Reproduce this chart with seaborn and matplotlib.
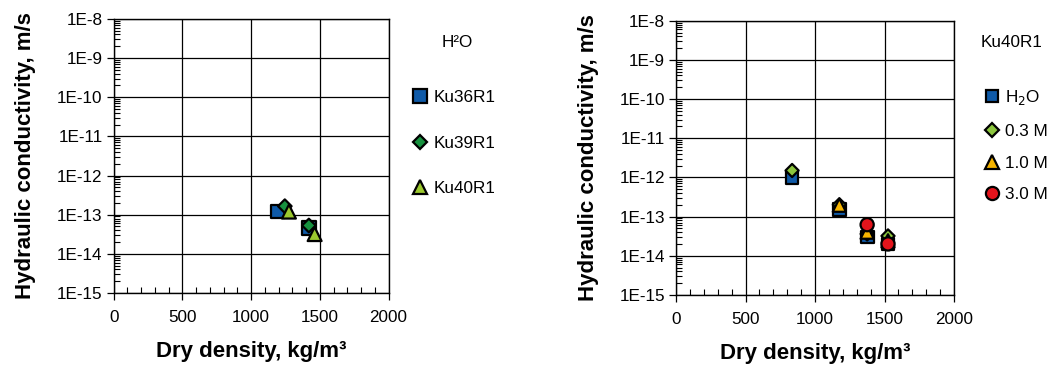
import numpy as np
import pandas as pd
import matplotlib
matplotlib.use('Agg')
import matplotlib.pyplot as plt
from matplotlib.lines import Line2D
from matplotlib.ticker import FuncFormatter, LogLocator, MultipleLocator
import seaborn as sns

# ── Data: left panel (H2O, three materials) ──────────────────────────
left_series  = ['Ku36R1', 'Ku39R1', 'Ku40R1']
ku36_density = [1195, 1420]
ku36_k       = [1.2e-13, 4.6e-14]
ku39_density = [1245, 1420]
ku39_k       = [1.65e-13, 5.3e-14]
ku40_density = [1275, 1462]
ku40_k       = [1.2e-13, 3.2e-14]

# ── Data: right panel (Ku40R1, four solutions) ───────────────────────
right_series  = ['H$_2$O', '0.3 M', '1.0 M', '3.0 M']
h2o_density   = [835, 1175, 1375, 1525]
h2o_k         = [1.0e-12, 1.55e-13, 3.0e-14, 2.0e-14]
m03_density   = [835, 1175, 1375, 1525]
m03_k         = [1.5e-12, 2.0e-13, 3.6e-14, 3.2e-14]
m10_density   = [1175, 1375, 1525]
m10_k         = [1.95e-13, 4.0e-14, 2.4e-14]
m30_density   = [1375, 1525]
m30_k         = [6.2e-14, 2.0e-14]

left_df = pd.concat([
    pd.DataFrame({'density': ku36_density, 'k': ku36_k, 'series': 'Ku36R1'}),
    pd.DataFrame({'density': ku39_density, 'k': ku39_k, 'series': 'Ku39R1'}),
    pd.DataFrame({'density': ku40_density, 'k': ku40_k, 'series': 'Ku40R1'}),
], ignore_index=True)

right_df = pd.concat([
    pd.DataFrame({'density': h2o_density, 'k': h2o_k, 'series': 'H$_2$O'}),
    pd.DataFrame({'density': m03_density, 'k': m03_k, 'series': '0.3 M'}),
    pd.DataFrame({'density': m10_density, 'k': m10_k, 'series': '1.0 M'}),
    pd.DataFrame({'density': m30_density, 'k': m30_k, 'series': '3.0 M'}),
], ignore_index=True)

left_colors  = {'Ku36R1': '#0f5aa8', 'Ku39R1': '#17913f', 'Ku40R1': '#9cc92f'}
left_markers = {'Ku36R1': 's', 'Ku39R1': 'D', 'Ku40R1': '^'}
left_sizes   = {'Ku36R1': 95, 'Ku39R1': 48, 'Ku40R1': 100}
right_colors  = {'H$_2$O': '#0f5aa8', '0.3 M': '#8cc63e',
                 '1.0 M': '#f7b500', '3.0 M': '#e3141c'}
right_markers = {'H$_2$O': 's', '0.3 M': 'D', '1.0 M': '^', '3.0 M': 'o'}
right_sizes   = {'H$_2$O': 85, '0.3 M': 45, '1.0 M': 90, '3.0 M': 90}

sns.set_style('white')
plt.rcParams['font.family'] = ['Liberation Sans', 'DejaVu Sans']
plt.rcParams['text.color'] = 'black'
plt.rcParams['axes.labelcolor'] = 'black'

fig = plt.figure(figsize=(10.53, 3.70), dpi=100)
ax_l = fig.add_axes([0.108, 0.208, 0.261, 0.741])
ax_r = fig.add_axes([0.642, 0.203, 0.264, 0.741])

TICK_FS = 12.3


def style_axis(ax):
    ax.set_yscale('log')
    ax.set_xlim(0, 2000)
    ax.set_ylim(1e-15, 1e-8)
    ax.xaxis.set_major_locator(MultipleLocator(500))
    ax.xaxis.set_minor_locator(MultipleLocator(100))
    ax.yaxis.set_major_locator(LogLocator(base=10, numticks=20))
    ax.yaxis.set_minor_locator(LogLocator(base=10, subs=np.arange(2, 10), numticks=20))
    ax.yaxis.set_major_formatter(FuncFormatter(lambda v, p: '1E%d' % round(np.log10(v))))
    ax.grid(True, which='major', color='black', linewidth=0.9)
    ax.tick_params(which='major', direction='out', length=5, width=0.9,
                   labelsize=TICK_FS, colors='black', pad=3,
                   bottom=True, left=True)
    ax.tick_params(axis='x', which='major', pad=7)
    ax.tick_params(which='minor', direction='in', length=4, width=0.8,
                   bottom=True, left=True, color='black')
    for s in ax.spines.values():
        s.set_color('black')
        s.set_linewidth(1.0)
    ax.set_xlabel('Dry density, kg/m³', fontsize=16, fontweight='bold', labelpad=12)
    ax.set_ylabel('Hydraulic conductivity, m/s', fontsize=16, fontweight='bold', labelpad=15)


def legend_handles(names, markers, colors, sizes):
    return [Line2D([], [], linestyle='none', marker=markers[n],
                   markersize=np.sqrt(sizes[n]), markerfacecolor=colors[n],
                   markeredgecolor='black', markeredgewidth=1.6) for n in names]


# Left panel
sns.scatterplot(data=left_df, x='density', y='k', hue='series', style='series',
                size='series', sizes=left_sizes,
                palette=left_colors, markers=left_markers,
                edgecolor='black', linewidth=1.6, legend=False, ax=ax_l, zorder=3)
style_axis(ax_l)
ax_l.legend(legend_handles(left_series, left_markers, left_colors, left_sizes),
            left_series, loc='upper left', bbox_to_anchor=(1.06, 0.765),
            frameon=False, fontsize=TICK_FS, labelspacing=1.78, handletextpad=0.3,
            handlelength=1.0, borderaxespad=0, labelcolor='black')
ax_l.text(1.193, 0.912, 'H²O', transform=ax_l.transAxes, fontsize=TICK_FS,
          ha='left', va='center', color='black')

# Right panel
sns.scatterplot(data=right_df, x='density', y='k', hue='series', style='series',
                size='series', sizes=right_sizes,
                palette=right_colors, markers=right_markers,
                edgecolor='black', linewidth=1.6, legend=False, ax=ax_r, zorder=3)
style_axis(ax_r)
ax_r.legend(legend_handles(right_series, right_markers, right_colors, right_sizes),
            right_series, loc='upper left', bbox_to_anchor=(1.08, 0.778),
            frameon=False, fontsize=TICK_FS, labelspacing=0.97, handletextpad=0.3,
            handlelength=1.0, borderaxespad=0, labelcolor='black')
ax_r.text(1.094, 0.92, 'Ku40R1', transform=ax_r.transAxes, fontsize=TICK_FS,
          ha='left', va='center', color='black')

fig.savefig('out.png', dpi=100)
plt.close(fig)
